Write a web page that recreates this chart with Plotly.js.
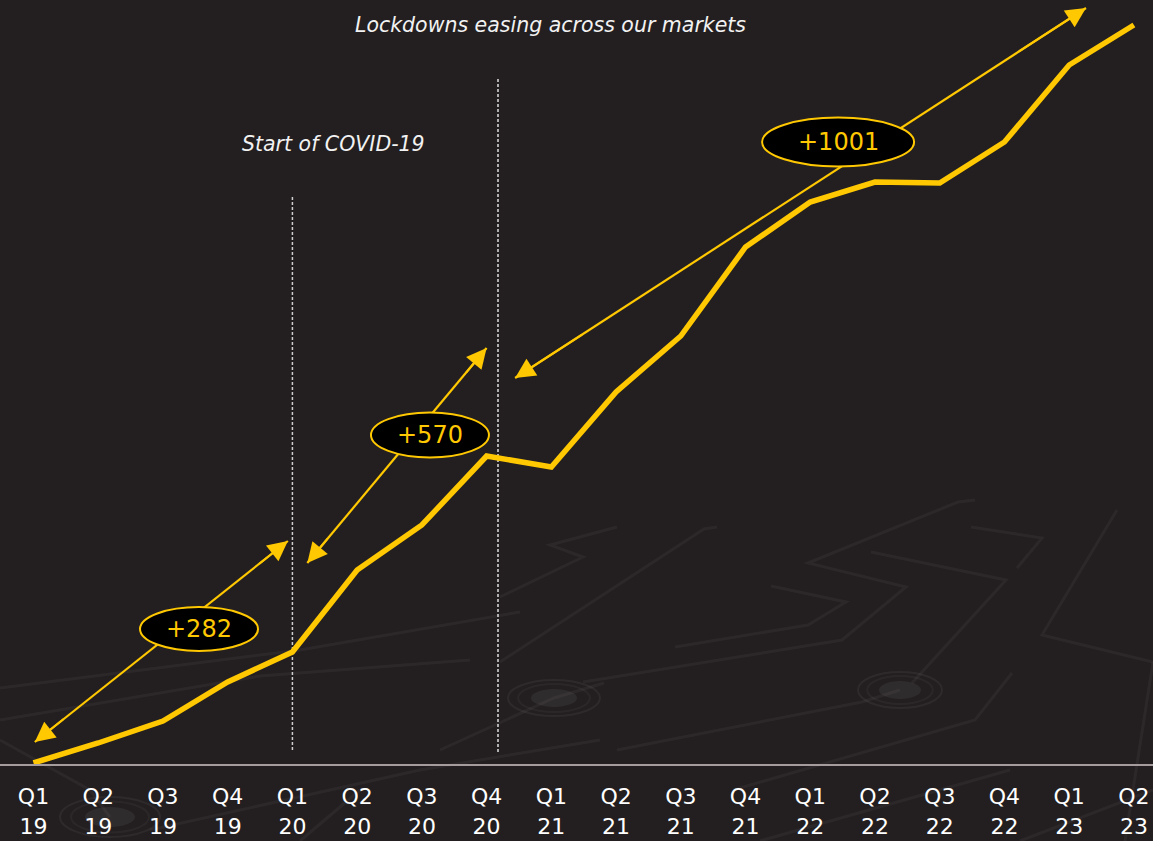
<!DOCTYPE html>
<html>
<head>
<meta charset="utf-8">
<script src="https://cdn.plot.ly/plotly-3.0.1.min.js"></script>
<style>
html,body{margin:0;padding:0;background:#231f20;}
#chart{width:1153px;height:841px;}
</style>
</head>
<body>
<div id="chart"></div>
<script>
// ---- data ----
const quarters = ['Q1','Q2','Q3','Q4','Q1','Q2','Q3','Q4','Q1','Q2','Q3','Q4','Q1','Q2','Q3','Q4','Q1','Q2'];
const years    = ['19','19','19','19','20','20','20','20','21','21','21','21','22','22','22','22','23','23'];
const values   = [1, 21, 43, 82, 112, 194, 239, 308, 297, 372, 428, 517, 562, 582, 581, 622, 699, 739];
const stepLabels = ['+282', '+570', '+1001'];
const noteLabels = ['Lockdowns easing across our markets', 'Start of COVID-19'];

const idx = quarters.map((_, i) => i);
const YELLOW = '#ffc800';
const W = 1153, PLOT_H = 764;

// arrow geometry (category index, value units)
const arrows = [
  {t:[0.02, 22],  h:[3.93, 223], c:[2.557, 135], w:118, hgt:44},
  {t:[4.23, 201], h:[7.00, 416], c:[6.125, 329], w:118, hgt:45},
  {t:[7.44, 386], h:[16.26, 756], c:[12.43, 622], w:152, hgt:49}
];

// faint circuit-board decoration (screen pixels) - background only
const deco = [
  [[500,662],[704,529],[717,527]],
  [[500,597],[583,557],[550,545],[617,527]],
  [[583,682],[842,640],[906,587],[808,563],[958,502],[975,500]],
  [[871,552],[1006,580],[912,683]],
  [[617,750],[862,702],[900,690]],
  [[1012,673],[975,720],[733,790]],
  [[1117,510],[1042,635],[1153,662]],
  [[1153,662],[1125,841]],
  [[771,586],[846,602],[808,625],[675,647]],
  [[971,527],[1042,538],[1017,568]],
  [[440,750],[554,698],[604,683]],
  [[0,688],[300,650],[520,612]],
  [[0,720],[260,676],[470,660]],
  [[0,740],[90,790],[110,817]],
  [[150,830],[420,770],[600,740]],
  [[1020,841],[1153,790]],
  [[760,841],[1010,770]],
  [[300,841],[360,790]]
];
const rings = [[110,817,50,20],[554,698,46,18],[900,690,42,18]];

function px2paper(p){ return [p[0]/W, (PLOT_H - p[1])/PLOT_H]; }

const traces = [];
arrows.forEach(a => {
  traces.push({x:[a.t[0], a.h[0]], y:[a.t[1], a.h[1]], mode:'lines', type:'scatter',
    line:{color:YELLOW, width:2.2}, hoverinfo:'skip', showlegend:false});
});
traces.push({x: idx, y: values, mode:'lines', type:'scatter',
  line:{color:YELLOW, width:5.5, shape:'linear'}, hoverinfo:'skip', showlegend:false});
traces.push({x: idx, y: values.map(() => null), xaxis:'x2', yaxis:'y', mode:'lines', showlegend:false, hoverinfo:'skip'});

const shapes = [];
deco.forEach(pl => {
  const d = pl.map((p, i) => { const q = px2paper(p); return (i ? 'L' : 'M') + q[0] + ',' + q[1]; }).join(' ');
  shapes.push({type:'path', xref:'paper', yref:'paper', path:d, layer:'below',
    line:{color:'rgba(255,255,255,0.045)', width:3}});
});
rings.forEach(r => {
  [[1, 0.05, 2, 'rgba(0,0,0,0)'], [0.78, 0.04, 2, 'rgba(0,0,0,0)'], [0.5, 0, 0, 'rgba(255,255,255,0.06)']].forEach(s => {
    const a = px2paper([r[0]-r[2]*s[0], r[1]+r[3]*s[0]]), b = px2paper([r[0]+r[2]*s[0], r[1]-r[3]*s[0]]);
    shapes.push({type:'circle', xref:'paper', yref:'paper', x0:a[0], y0:a[1], x1:b[0], y1:b[1], layer:'below',
      fillcolor:s[3], line:{color:'rgba(255,255,255,' + s[1] + ')', width:s[2]}});
  });
});
shapes.push({type:'line', xref:'x', yref:'y', x0:4.0, x1:4.0, y0:14, y1:567, layer:'below',
   line:{color:'#cfcfcf', width:1.5, dash:'3px,2px'}});
shapes.push({type:'line', xref:'x', yref:'y', x0:7.176, x1:7.176, y0:12, y1:686, layer:'below',
   line:{color:'#e0e0e0', width:1.5, dash:'3px,2px'}});
arrows.forEach(a => {
  shapes.push({type:'circle', xref:'x', yref:'y', xsizemode:'pixel', ysizemode:'pixel',
    xanchor:a.c[0], yanchor:a.c[1], x0:-a.w/2, x1:a.w/2, y0:-a.hgt/2, y1:a.hgt/2,
    fillcolor:'#000000', line:{color:YELLOW, width:2}, layer:'above'});
});

const annotations = [];
arrows.forEach(a => {
  const dx = a.h[0]-a.t[0], dy = a.h[1]-a.t[1];
  const f = 0.12;
  const head = {arrowhead:2, arrowsize:2, arrowwidth:2, arrowcolor:YELLOW, standoff:0, showarrow:true, text:'',
    axref:'x', ayref:'y', xref:'x', yref:'y'};
  annotations.push(Object.assign({x:a.h[0], y:a.h[1], ax:a.h[0]-dx*f, ay:a.h[1]-dy*f}, head));
  annotations.push(Object.assign({x:a.t[0], y:a.t[1], ax:a.t[0]+dx*f, ay:a.t[1]+dy*f}, head));
});
arrows.forEach((a, i) => {
  annotations.push({x:a.c[0], y:a.c[1], xref:'x', yref:'y', text:stepLabels[i], showarrow:false,
    font:{family:'DejaVu Sans', size:24, color:YELLOW}, xanchor:'center', yanchor:'middle'});
});
const noteFont = {family:'DejaVu Sans', size:20.5, color:'#f2f2f2', style:'italic'};
annotations.push({x:7.98, y:739, xref:'x', yref:'y', text:noteLabels[0], showarrow:false,
  font:noteFont, xanchor:'center', yanchor:'middle'});
annotations.push({x:4.627, y:620, xref:'x', yref:'y', text:noteLabels[1], showarrow:false,
  font:noteFont, xanchor:'center', yanchor:'middle'});

const xr = [-0.5175, 17.295];
const tickFont = {family:'DejaVu Sans', size:22, color:'#ffffff'};
const layout = {
  width:W, height:841,
  margin:{l:0, r:0, t:0, b:77, pad:0},
  paper_bgcolor:'#231f20', plot_bgcolor:'rgba(0,0,0,0)',
  showlegend:false,
  xaxis:{range:xr, showgrid:false, zeroline:false, showline:true, linecolor:'#a59c9d', linewidth:2,
    tickmode:'array', tickvals:idx, ticktext:quarters, ticks:'', ticklabelstandoff:12,
    ticklabeloverflow:'allow', tickfont:tickFont, fixedrange:true},
  xaxis2:{range:xr, overlaying:'x', anchor:'y', side:'bottom', showgrid:false, zeroline:false, showline:false,
    tickmode:'array', tickvals:idx, ticktext:years, ticks:'', ticklabelstandoff:47,
    ticklabeloverflow:'allow', tickfont:tickFont, fixedrange:true},
  yaxis:{range:[0,PLOT_H], visible:false, showgrid:false, zeroline:false, fixedrange:true},
  shapes: shapes,
  annotations: annotations
};

Plotly.newPlot('chart', traces, layout, {displayModeBar:false, staticPlot:true});
</script>
</body>
</html>
